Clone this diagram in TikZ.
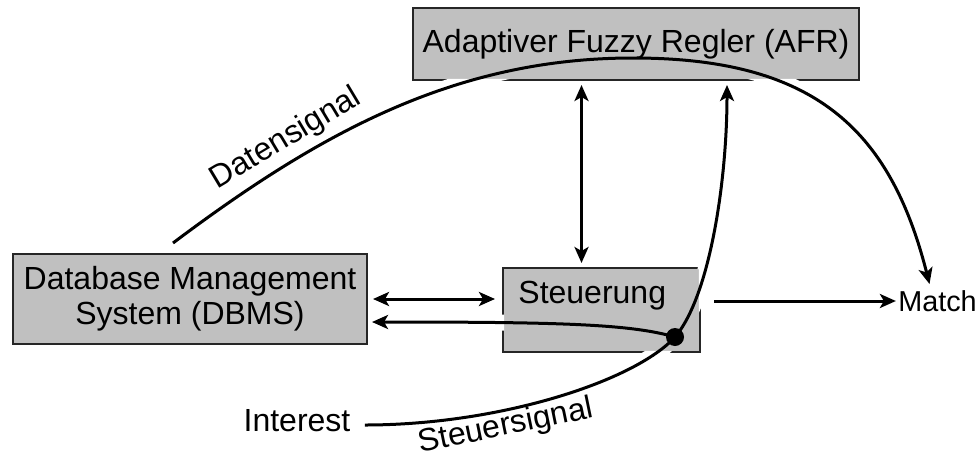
\documentclass[tikz,border=0pt]{standalone}
\usepackage{fontspec}
\setmainfont{Liberation Sans}
\usetikzlibrary{arrows.meta}
\definecolor{boxgray}{RGB}{192,192,192}
\begin{document}
\begin{tikzpicture}[x=0.5pt,y=-0.5pt,
	block/.style={draw=black!85,line width=1.2pt,fill=boxgray,inner sep=0pt,outer sep=0pt,
		font=\fontsize{16}{17.5}\selectfont},
	txt/.style={inner sep=1pt,font=\fontsize{16}{17.5}\selectfont},
	signal/.style={line width=1.5pt,-{Stealth[length=8pt,width=7pt,inset=2pt]}},
	twoway/.style={line width=1.5pt,
		{Stealth[length=8pt,width=7pt,inset=2pt]}-{Stealth[length=8pt,width=7pt,inset=2pt]}},
	halo/.style={white,line width=8pt,shorten >=6pt,shorten <=3pt}]
	\useasboundingbox (0,0) rectangle (978,455);
	\node[block,minimum width=223pt,minimum height=36pt] (afr) at (636,44)
		{Adaptiver Fuzzy Regler (AFR)};
	\node[block,minimum width=177pt,minimum height=45pt,align=center] (dbms) at (190,299)
		{Database Management\\System (DBMS)};
	\node[block,minimum width=98.5pt,minimum height=42pt] (steu) at (601.5,310) {};
	\node[txt,inner sep=0pt,anchor=base west] (steutext)
		at ([shift={(7.5pt,-17.5pt)}]steu.north west) {Steuerung};
	\node[txt,font=\fontsize{14.4}{15}\selectfont] (match) at (937.5,301) {Match};
	\node[txt] (interest) at (297,421) {Interest};
	\coordinate (dstart) at (173,243);
	\coordinate (knot) at (675,337);
	\begin{scope}[even odd rule]
		\clip (0,0) rectangle (978,455)
			([shift={(0.6pt,-0.6pt)}]afr.north west) rectangle ([shift={(-0.6pt,0.6pt)}]afr.south east)
			([shift={(0.6pt,-0.6pt)}]steu.north west) rectangle ([shift={(-0.6pt,0.6pt)}]steu.south east);
		\draw[halo] (dstart) .. controls (317,135) and (453,58) .. (633,58)
			.. controls (813,58) and (890,128) .. ([xshift=-4pt,yshift=2pt]match.north);
		\draw[halo] ([xshift=6pt,yshift=-2pt]interest.east) .. controls (500,425) and (635,381) .. (knot)
			.. controls (710,296) and (727,180) .. ([xshift=45.5pt,yshift=-2.5pt]afr.south);
		\draw[halo] (knot) .. controls (630,324) and (560,322) .. ([xshift=2.5pt,yshift=-11.5pt]dbms.east);
	\end{scope}
	\draw[signal] (dstart) .. controls (317,135) and (453,58) ..
		node[txt,pos=.29,sloped,above=2pt] {Datensignal} (633,58)
		.. controls (813,58) and (890,128) .. ([xshift=-4pt,yshift=2pt]match.north);
	\draw[signal] ([xshift=6pt,yshift=-2pt]interest.east) .. controls (500,425) and (635,381) ..
		node[txt,pos=.35,sloped,below,inner sep=0pt] {Steuersignal} (knot)
		.. controls (710,296) and (727,180) .. ([xshift=45.5pt,yshift=-2.5pt]afr.south);
	\draw[signal] (knot) .. controls (630,324) and (560,322) .. ([xshift=2.5pt,yshift=-11.5pt]dbms.east);
	\draw[twoway] ([xshift=3pt]dbms.east) -- ([xshift=-4pt]steu.west |- dbms.east);
	\draw[twoway] ([xshift=-10pt,yshift=-2.5pt]steu.north |- afr.south) -- ([xshift=-10pt,yshift=2.5pt]steu.north);
	\draw[signal] ([xshift=7pt]steu.east |- match.west) -- (match.west);
	\fill (knot) circle (4.5pt);
\end{tikzpicture}
\end{document}
